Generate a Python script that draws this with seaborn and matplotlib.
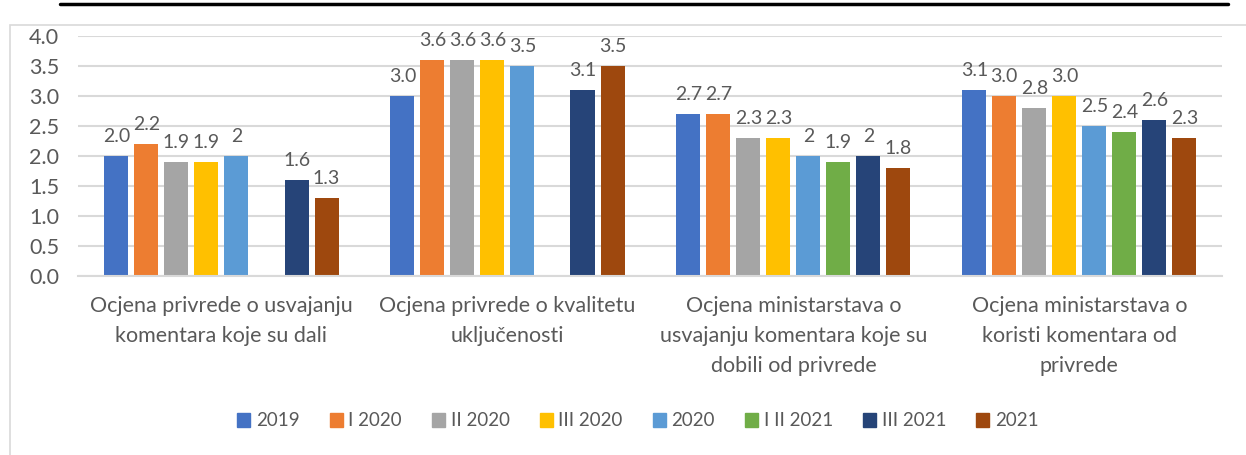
import numpy as np
import pandas as pd
import matplotlib
matplotlib.use("Agg")
import matplotlib.pyplot as plt
from matplotlib.patches import Rectangle
from matplotlib.lines import Line2D
import seaborn as sns

categories = [
    "Ocjena privrede o usvajanju\nkomentara koje su dali",
    "Ocjena privrede o kvalitetu\nuključenosti",
    "Ocjena ministarstava o\nusvajanju komentara koje su\ndobili od privrede",
    "Ocjena ministarstava o\nkoristi komentara od\nprivrede",
]
series = ["2019", "I 2020", "II 2020", "III 2020", "2020", "I II 2021", "III 2021", "2021"]
v_2019 = [2.0, 3.0, 2.7, 3.1]
v_I_2020 = [2.2, 3.6, 2.7, 3.0]
v_II_2020 = [1.9, 3.6, 2.3, 2.8]
v_III_2020 = [1.9, 3.6, 2.3, 3.0]
v_2020 = [2.0, 3.5, 2.0, 2.5]
v_I_II_2021 = [np.nan, np.nan, 1.9, 2.4]
v_III_2021 = [1.6, 3.1, 2.0, 2.6]
v_2021 = [1.3, 3.5, 1.8, 2.3]
values = [v_2019, v_I_2020, v_II_2020, v_III_2020, v_2020, v_I_II_2021, v_III_2021, v_2021]
# label number format per series (Excel "General" vs "0.0")
general_format = {"2020", "III 2021"}
colors = ["#4472C4", "#ED7D31", "#A5A5A5", "#FFC000", "#5B9BD5", "#70AD47", "#264478", "#9E480E"]
yticks = [0.0, 0.5, 1.0, 1.5, 2.0, 2.5, 3.0, 3.5, 4.0]

rows = []
for s, vals in zip(series, values):
    for c, v in zip(categories, vals):
        if not np.isnan(v):
            rows.append({"cat": c, "series": s, "val": v})
df = pd.DataFrame(rows)

sns.set_theme(style="white")
plt.rcParams["font.family"] = ["Lato", "DejaVu Sans"]
text_color = "#595959"

fig = plt.figure(figsize=(12.46, 4.55), dpi=100)
ax = fig.add_axes([0.063, 0.393, 0.918, 0.528])

sns.barplot(data=df, x="cat", y="val", hue="series", order=categories,
            hue_order=series, palette=colors, width=0.84, gap=0.2,
            saturation=1, ax=ax, legend=True, linewidth=0)

for s, cont in zip(series, ax.containers):
    for bar in cont:
        h = bar.get_height()
        if np.isnan(h):
            continue
        lab = f"{h:g}" if s in general_format else f"{h:.1f}"
        ax.annotate(lab, (bar.get_x() + bar.get_width() / 2, h),
                    xytext=(0, 8), textcoords="offset points",
                    ha="center", va="bottom", fontsize=14, color=text_color)

ax.set_ylim(0, 4.0)
ax.set_xlim(-0.5, 3.5)
ax.set_yticks(yticks)
ax.set_yticklabels([f"{t:.1f}" for t in yticks])
ax.yaxis.grid(True, color="#D9D9D9", linewidth=1.5)
ax.set_axisbelow(True)
for sp in ["top", "right", "left"]:
    ax.spines[sp].set_visible(False)
ax.spines["bottom"].set_color("#D9D9D9")
ax.spines["bottom"].set_linewidth(1.5)
ax.tick_params(axis="both", length=0, labelsize=15.5, colors=text_color)
ax.tick_params(axis="y", pad=14)
ax.tick_params(axis="x", pad=14)
for t in ax.get_xticklabels():
    t.set_linespacing(1.65)
    t.set_va("top")
ax.set_xlabel("")
ax.set_ylabel("")

handles = [Rectangle((0, 0), 1, 1, color=c) for c in colors]
ax.legend(handles, series, loc="center", bbox_to_anchor=(0.512, 1 - 421 / 455),
          bbox_transform=fig.transFigure, ncol=8, frameon=False, fontsize=13.5,
          handlelength=0.7, handleheight=0.7, handletextpad=0.3, columnspacing=1.6,
          labelcolor=text_color)

fig.add_artist(Rectangle((10 / 1246, -0.01), 1.0, 1 - 25 / 455 + 0.01,
                         transform=fig.transFigure, fill=False,
                         edgecolor="#D9D9D9", linewidth=1.2))
fig.add_artist(Line2D([60 / 1246, 1228 / 1246], [1 - 4 / 455, 1 - 4 / 455],
                      transform=fig.transFigure, color="black", linewidth=2.5))

fig.savefig("out.png", dpi=100, facecolor="white")
